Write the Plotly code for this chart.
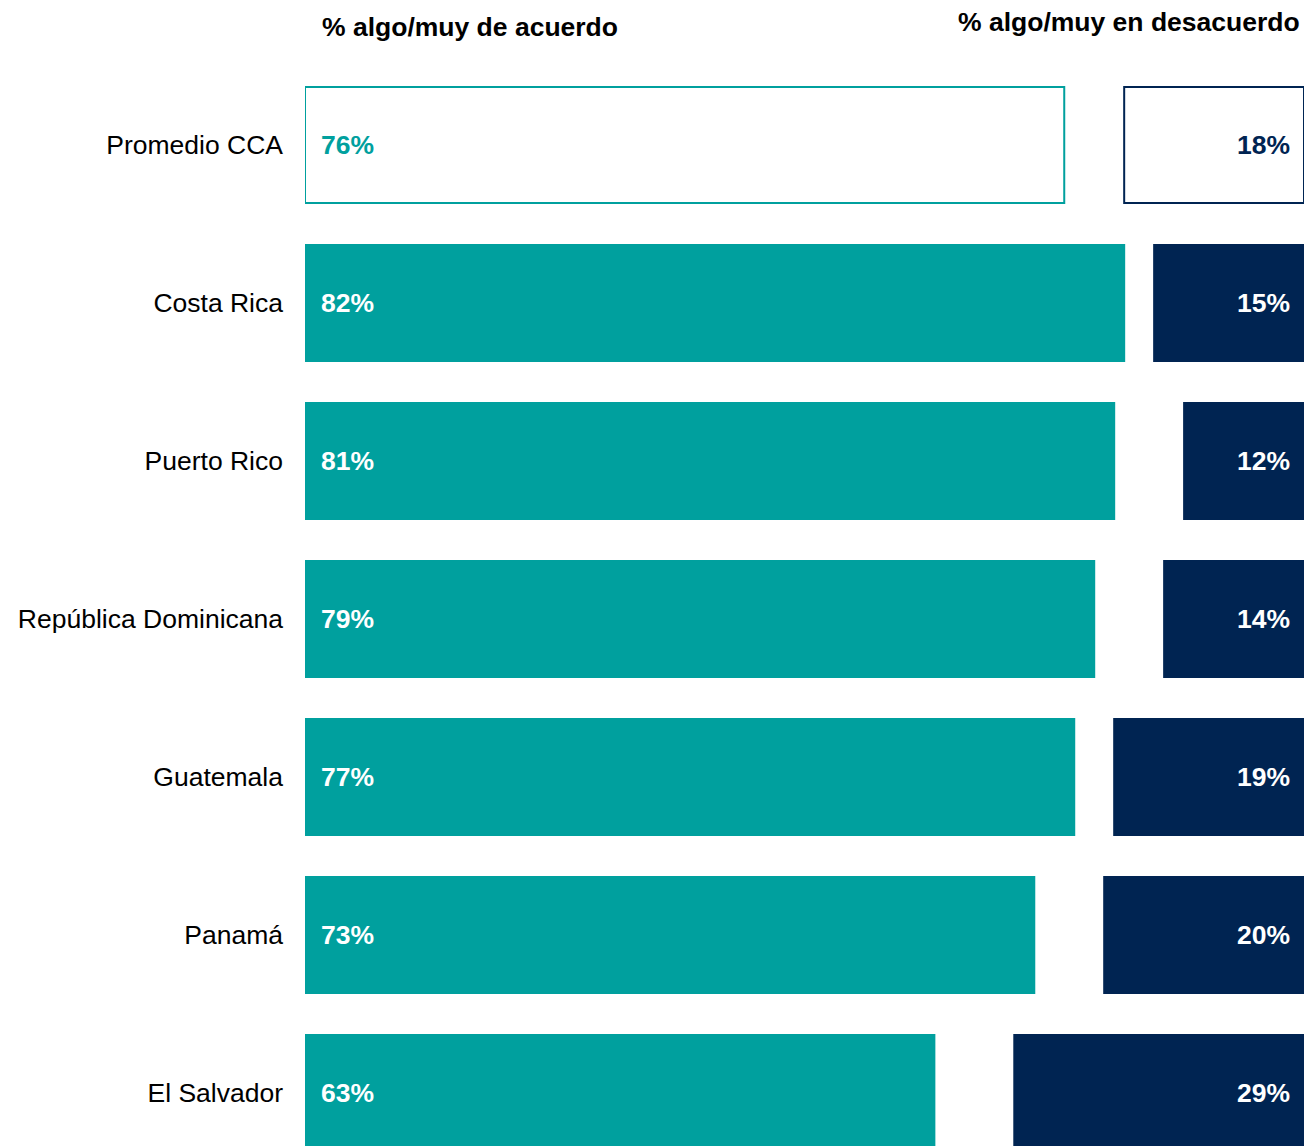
import plotly.graph_objects as go

categories = ["Promedio CCA", "Costa Rica", "Puerto Rico", "República Dominicana",
              "Guatemala", "Panamá", "El Salvador"]
agree = [76, 82, 81, 79, 77, 73, 63]
disagree = [18, 15, 12, 14, 19, 20, 29]
header_agree = "% algo/muy de acuerdo"
header_disagree = "% algo/muy en desacuerdo"

TEAL = "#00A09E"
NAVY = "#002452"
FONT = "Liberation Sans, Arial, sans-serif"
FS = 26.5

idx = list(range(len(categories)))
agree_fill = ["white" if i == 0 else TEAL for i in idx]
dis_fill = ["white" if i == 0 else NAVY for i in idx]

fig = go.Figure()
fig.add_trace(go.Bar(
    y=idx, x=agree, base=[0] * len(agree), orientation="h", width=0.734,
    marker=dict(color=agree_fill, line=dict(color=TEAL, width=2)),
    hoverinfo="skip", showlegend=False,
))
fig.add_trace(go.Bar(
    y=idx, x=disagree, base=[100 - v for v in disagree], orientation="h", width=0.734,
    marker=dict(color=dis_fill, line=dict(color=NAVY, width=2)),
    hoverinfo="skip", showlegend=False,
))

annotations = []
for i, (a, d) in enumerate(zip(agree, disagree)):
    annotations.append(dict(
        x=0, y=i, xref="x", yref="y", text=f"<b>{a}%</b>", showarrow=False,
        xanchor="left", xshift=14,
        font=dict(family=FONT, size=FS, color=TEAL if i == 0 else "white"),
    ))
    annotations.append(dict(
        x=100, y=i, xref="x", yref="y", text=f"<b>{d}%</b>", showarrow=False,
        xanchor="right", xshift=-12,
        font=dict(family=FONT, size=FS, color=NAVY if i == 0 else "white"),
    ))
annotations.append(dict(
    x=0, y=1, xref="paper", yref="paper", text=f"<b>{header_agree}</b>", showarrow=False,
    xanchor="left", yanchor="middle", xshift=15, yshift=-27,
    font=dict(family=FONT, size=FS, color="black"),
))
annotations.append(dict(
    x=1, y=1, xref="paper", yref="paper", text=f"<b>{header_disagree}</b>", showarrow=False,
    xanchor="right", yanchor="middle", xshift=-2, yshift=-22,
    font=dict(family=FONT, size=FS, color="black"),
))

fig.update_layout(
    width=1304, height=1146,
    margin=dict(l=305, r=0, t=0, b=0),
    paper_bgcolor="white", plot_bgcolor="white",
    barmode="overlay",
    font=dict(family=FONT, size=FS, color="black"),
    xaxis=dict(range=[0, 100], visible=False, showgrid=False, zeroline=False),
    yaxis=dict(range=[6.3354, -0.9177], tickmode="array", tickvals=idx, ticktext=categories,
               showgrid=False, zeroline=False, showline=False, ticks="",
               ticklabelstandoff=21,
               tickfont=dict(family=FONT, size=FS, color="black")),
    annotations=annotations,
)

fig.write_html(
    "out.html",
    config={"displayModeBar": False},
    post_script="document.body.style.margin='0';document.body.style.overflow='hidden';",
)
